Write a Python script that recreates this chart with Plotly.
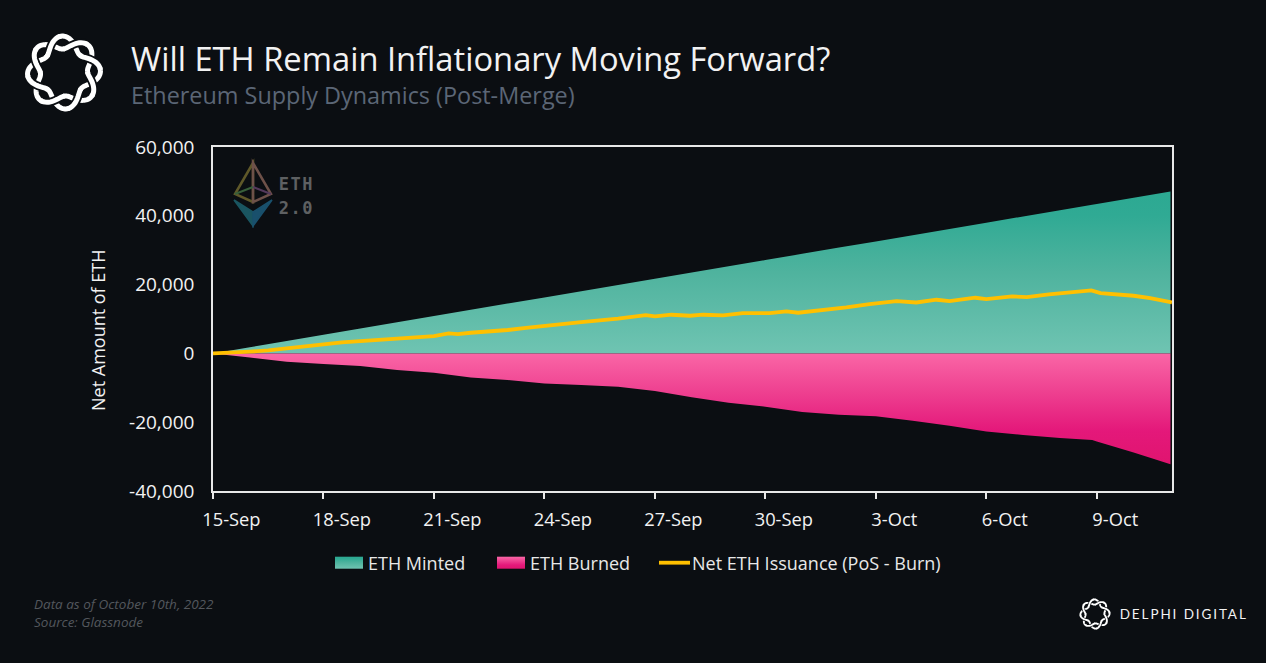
import math
import pandas as pd
import plotly.graph_objects as go

# ---- data ----
dates = ["2022-09-15", "2022-09-16", "2022-09-17", "2022-09-18", "2022-09-19", "2022-09-20", "2022-09-21",
         "2022-09-22", "2022-09-23", "2022-09-24", "2022-09-25", "2022-09-26", "2022-09-27", "2022-09-28",
         "2022-09-29", "2022-09-30", "2022-10-01", "2022-10-02", "2022-10-03", "2022-10-04", "2022-10-05",
         "2022-10-06", "2022-10-07", "2022-10-08", "2022-10-08 21:00", "2022-10-09", "2022-10-10", "2022-10-11"]
eth_minted = [0, 1810, 3620, 5430, 7240, 9050, 10860, 12660, 14470, 16280, 18090, 19900, 21700, 23510,
              25320, 27130, 28940, 30750, 32560, 34370, 36180, 37990, 39800, 41610, 43190, 43420, 45230, 47100]
eth_burned = [0, -1200, -2400, -3100, -3680, -4850, -5600, -6980, -7750, -8720, -9200, -9700, -10950, -12750,
              -14340, -15500, -17000, -17800, -18300, -19600, -21000, -22700, -23740, -24600, -25200, -25600, -28800, -32200]
net_day_offsets = [0, 0.5, 1, 1.5, 2, 2.5, 3, 3.5, 4, 4.5, 5, 5.5, 6, 6.4, 6.65, 7, 7.5, 8, 8.5, 9, 10, 11, 11.75,
                   12, 12.45, 12.95, 13.31, 13.85, 14.39, 15.12, 15.57, 15.89, 16.57, 17.2, 17.83, 18.56, 19.1,
                   19.65, 20, 20.7, 21, 21.7, 22.1, 22.7, 23.85, 24.1, 25, 25.45, 26.04]
net_issuance = [0, 150, 500, 850, 1450, 2150, 2700, 3200, 3600, 3950, 4260, 4550, 5040, 5800, 5600, 6000, 6350, 6800,
                7400, 8040, 9100, 10080, 11140, 10750, 11240, 10950, 11240, 11050, 11720, 11720, 12210, 11820, 12600,
                13370, 14340, 15210, 14800, 15600, 15200, 16180, 15800, 16570, 16380, 17150, 18300, 17540, 16760,
                16090, 14830]
x_tick_dates = ["2022-09-15 12:00", "2022-09-18 12:00", "2022-09-21 12:00", "2022-09-24 12:00", "2022-09-27 12:00",
                "2022-09-30 12:00", "2022-10-03 12:00", "2022-10-06 12:00", "2022-10-09 12:00"]
x_tick_labels = ["15-Sep", "18-Sep", "21-Sep", "24-Sep", "27-Sep", "30-Sep", "3-Oct", "6-Oct", "9-Oct"]
y_ticks = [-40000, -20000, 0, 20000, 40000, 60000]
y_tick_labels = ["-40,000", "-20,000", "0", "20,000", "40,000", "60,000"]

net_dates = [pd.Timestamp("2022-09-15") + pd.Timedelta(days=d) for d in net_day_offsets]

BG = "#0b0e12"
FONT = "Open Sans"
L, R, T, B = 213, 1172, 147, 491
W, H = 1266, 663

def px(x):
    return (x - L) / (R - L)

def py(y):
    return (B - y) / (B - T)

def path(points, close=False):
    s = "M " + " L ".join(f"{px(a):.5f},{py(b):.5f}" for a, b in points)
    return s + (" Z" if close else "")

shapes = []

def stroke(points, color, width, close=False, fill=None):
    d = dict(type="path", xref="paper", yref="paper", path=path(points, close),
             line=dict(color=color, width=width), layer="above")
    if fill:
        d["fillcolor"] = fill
    shapes.append(d)

def knot(cx, cy, rad, amp, w, gap, rot):
    """Woven two-strand ring of the brand mark."""
    n = 240
    def pt(theta, sign):
        r = rad + sign * amp * math.cos(4 * theta)
        return (cx + r * math.cos(theta + rot), cy - r * math.sin(theta + rot))
    for sign in (1, -1):
        stroke([pt(2 * math.pi * i / n, sign) for i in range(n + 1)], "#ffffff", w)
    for k in range(8):
        tk = (2 * k + 1) * math.pi / 8
        sign = 1 if k % 2 == 0 else -1
        seg = [pt(tk - 0.3 + 0.6 * i / 16, sign) for i in range(17)]
        core = [pt(tk - 0.36 + 0.72 * i / 16, sign) for i in range(17)]
        stroke(seg, BG, w + gap)
        stroke(core, "#ffffff", w)

knot(64, 72.5, 30, 6.5, 5.0, 3.5, math.radians(3))
knot(1095, 614, 12, 2.6, 1.9, 1.3, math.radians(3))

# ETH 2.0 watermark
stroke([(253, 163), (235, 194), (253, 202)], "#5f5829", 2.5, close=True)
stroke([(253, 163), (271, 194), (253, 202)], "#6e5149", 2.5, close=True)
stroke([(235, 194), (253, 187)], "#38603a", 2)
stroke([(271, 194), (253, 187)], "#54395b", 2)
stroke([(234, 200), (253, 226), (253, 212)], "#1a5560", 1.5, close=True, fill="#1a5560")
stroke([(272, 200), (253, 226), (253, 212)], "#19506c", 1.5, close=True, fill="#19506c")

def note(x, y, text, size, color, italic=False, bold=False, family=FONT, anchor="left", angle=0):
    if anchor == "left":
        x -= 2
    return dict(xref="paper", yref="paper", x=px(x), y=py(y), xanchor=anchor, yanchor="middle",
                text=("<i>%s</i>" % text) if italic else (("<b>%s</b>" % text) if bold else text),
                showarrow=False, textangle=angle, font=dict(family=family, size=size, color=color))

annotations = [
    note(131, 58, "Will ETH Remain Inflationary Moving Forward?", 32.7, "#f2f2f2"),
    note(131, 95, "Ethereum Supply Dynamics (Post-Merge)", 23.4, "#5b6676"),
    note(98, 330, "Net Amount of ETH", 18, "#f2f2f2", anchor="center", angle=-90),
    note(34, 604, "Data as of October 10th, 2022", 13.5, "#53575d", italic=True),
    note(34, 622, "Source: Glassnode", 13.5, "#53575d", italic=True),
    note(1133, 614, "DELPHI DIGITAL", 13.5, "#f2f2f2", family="Lato"),
    note(281, 184, "ETH", 17, "#5e6062", bold=True, family="DejaVu Sans Mono"),
    note(281, 208, "2.0", 17, "#5e6062", bold=True, family="DejaVu Sans Mono"),
]

fig = go.Figure()
fig.add_trace(go.Scatter(
    x=dates, y=eth_minted, name="ETH Minted", mode="none", fill="tozeroy", hoverinfo="skip",
    fillgradient=dict(type="vertical",
                      colorscale=[[0, "#6fc4b2"], [0.5, "#4fb39e"], [0.85, "#30aa94"], [1, "#2ca992"]])))
fig.add_trace(go.Scatter(
    x=dates, y=eth_burned, name="ETH Burned", mode="none", fill="tozeroy", hoverinfo="skip",
    fillgradient=dict(type="vertical",
                      colorscale=[[0, "#e0146f"], [0.3, "#e4187a"], [0.65, "#ee4090"], [1, "#fa66a6"]])))
fig.add_trace(go.Scatter(
    x=net_dates, y=net_issuance, name="Net ETH Issuance (PoS - Burn)", mode="lines",
    line=dict(color="#ffc000", width=3.8)))

fig.update_layout(
    width=W, height=H, autosize=False,
    margin=dict(l=L, r=W - R, t=T, b=H - B),
    paper_bgcolor=BG, plot_bgcolor=BG,
    font=dict(family=FONT, color="#f2f2f2", size=17),
    shapes=shapes, annotations=annotations,
    legend=dict(orientation="h", x=px(335), y=py(563), xanchor="left", yanchor="middle",
                font=dict(size=18, color="#e8e8e8", family=FONT), bgcolor="rgba(0,0,0,0)",
                itemwidth=30, traceorder="normal", itemclick=False, itemdoubleclick=False),
    xaxis=dict(type="date", range=["2022-09-15", "2022-10-11 01:00"],
               tickmode="array", tickvals=x_tick_dates, ticktext=x_tick_labels,
               ticks="", showgrid=False, zeroline=False, showline=True, mirror=True,
               linecolor="#e8e8e8", linewidth=1.6,
               tickfont=dict(size=18.3, color="#f2f2f2", family=FONT), ticklabelstandoff=11,
               minor=dict(tick0="2022-09-15", dtick=3 * 86400000, ticks="outside", ticklen=6,
                          tickcolor="#e8e8e8", tickwidth=1.5, showgrid=False)),
    yaxis=dict(range=[-40000, 60000], tickmode="array", tickvals=y_ticks, ticktext=y_tick_labels, ticks="",
               showgrid=False, zeroline=False, showline=True, mirror=True,
               linecolor="#e8e8e8", linewidth=1.6, ticklabelstandoff=13,
               tickfont=dict(size=19, color="#f2f2f2", family=FONT)),
)

post = """
document.body.style.margin = '0';
document.body.style.background = '%s';
document.querySelectorAll('.annotation-text').forEach(function (t) {
  if (t.textContent.indexOf('DELPHI') === 0) { t.style.letterSpacing = '1.9px'; }
  if (t.textContent === 'ETH' || t.textContent === '2.0') { t.style.letterSpacing = '1.5px'; }
});
var legendX = [0, 162, 324];
document.querySelectorAll('.legend .traces').forEach(function (g, i) {
  var m = /translate\\(([^,]+),\\s*([^)]+)\\)/.exec(g.getAttribute('transform') || '');
  var y = m ? m[2] : 0;
  g.setAttribute('transform', 'translate(' + legendX[i] + ',' + y + ')');
  g.querySelectorAll('.legendfill path').forEach(function (p) { p.setAttribute('d', 'M0,-6h28v12h-28z'); });
  g.querySelectorAll('.legendlines path').forEach(function (p) { p.setAttribute('d', 'M0,0h31'); });
  var t = g.querySelector('.legendtext');
  if (t) { t.setAttribute('x', 33); }
  var lt = g.querySelector('.legendtoggle');
  if (lt) { lt.style.display = 'none'; }
});
var sb = document.querySelector('.legend .scrollbox');
if (sb) { sb.removeAttribute('clip-path'); sb.style.clipPath = 'none'; }
""" % BG
fig.write_html("out.html", post_script=post, config=dict(displayModeBar=False))
